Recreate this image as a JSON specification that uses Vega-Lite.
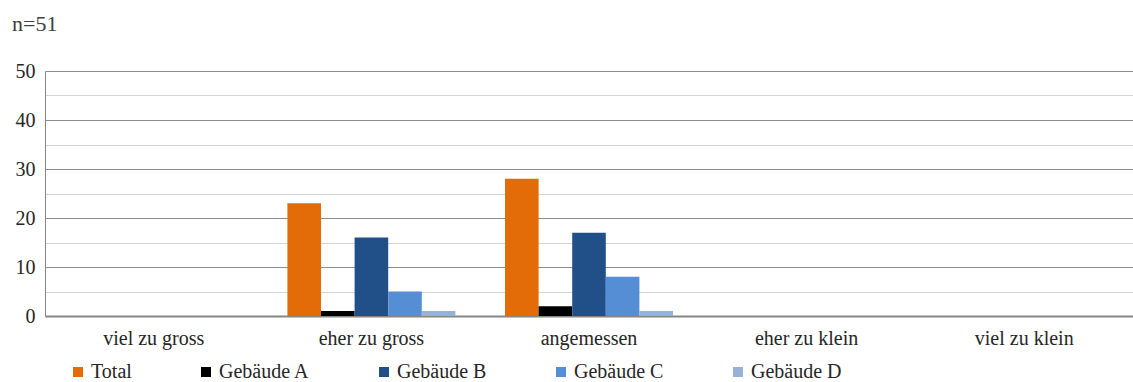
{
  "$schema": "https://vega.github.io/schema/vega-lite/v6.json",
  "autosize": "none",
  "width": 1088,
  "height": 245,
  "padding": {"left": 45, "top": 71, "right": 0, "bottom": 66},
  "background": "white",
  "title": {
    "text": "n=51",
    "anchor": "start",
    "frame": "group",
    "dx": -33,
    "offset": 25,
    "font": "Liberation Serif",
    "fontSize": 22,
    "fontWeight": "normal",
    "color": "#404040"
  },
  "data": {
    "values": [
      {"kategorie": "viel zu gross", "serie": "Total", "anzahl": 0},
      {"kategorie": "viel zu gross", "serie": "Gebäude A", "anzahl": 0},
      {"kategorie": "viel zu gross", "serie": "Gebäude B", "anzahl": 0},
      {"kategorie": "viel zu gross", "serie": "Gebäude C", "anzahl": 0},
      {"kategorie": "viel zu gross", "serie": "Gebäude D", "anzahl": 0},
      {"kategorie": "eher zu gross", "serie": "Total", "anzahl": 23},
      {"kategorie": "eher zu gross", "serie": "Gebäude A", "anzahl": 1},
      {"kategorie": "eher zu gross", "serie": "Gebäude B", "anzahl": 16},
      {"kategorie": "eher zu gross", "serie": "Gebäude C", "anzahl": 5},
      {"kategorie": "eher zu gross", "serie": "Gebäude D", "anzahl": 1},
      {"kategorie": "angemessen", "serie": "Total", "anzahl": 28},
      {"kategorie": "angemessen", "serie": "Gebäude A", "anzahl": 2},
      {"kategorie": "angemessen", "serie": "Gebäude B", "anzahl": 17},
      {"kategorie": "angemessen", "serie": "Gebäude C", "anzahl": 8},
      {"kategorie": "angemessen", "serie": "Gebäude D", "anzahl": 1},
      {"kategorie": "eher zu klein", "serie": "Total", "anzahl": 0},
      {"kategorie": "eher zu klein", "serie": "Gebäude A", "anzahl": 0},
      {"kategorie": "eher zu klein", "serie": "Gebäude B", "anzahl": 0},
      {"kategorie": "eher zu klein", "serie": "Gebäude C", "anzahl": 0},
      {"kategorie": "eher zu klein", "serie": "Gebäude D", "anzahl": 0},
      {"kategorie": "viel zu klein", "serie": "Total", "anzahl": 0},
      {"kategorie": "viel zu klein", "serie": "Gebäude A", "anzahl": 0},
      {"kategorie": "viel zu klein", "serie": "Gebäude B", "anzahl": 0},
      {"kategorie": "viel zu klein", "serie": "Gebäude C", "anzahl": 0},
      {"kategorie": "viel zu klein", "serie": "Gebäude D", "anzahl": 0}
    ]
  },
  "mark": {"type": "bar"},
  "encoding": {
    "x": {
      "field": "kategorie",
      "type": "nominal",
      "sort": ["viel zu gross", "eher zu gross", "angemessen", "eher zu klein", "viel zu klein"],
      "scale": {"paddingInner": 0.228, "paddingOuter": 0.114},
      "axis": {
        "title": null,
        "labelAngle": 0,
        "ticks": false,
        "labelPadding": 12,
        "labelFont": "Liberation Serif",
        "labelFontSize": 20,
        "labelColor": "#262626",
        "domainColor": "#868686",
        "domainWidth": 2,
        "grid": false
      }
    },
    "xOffset": {
      "field": "serie",
      "type": "nominal",
      "sort": ["Total", "Gebäude A", "Gebäude B", "Gebäude C", "Gebäude D"],
      "scale": {"paddingInner": 0, "paddingOuter": 0}
    },
    "y": {
      "field": "anzahl",
      "type": "quantitative",
      "scale": {"domain": [0, 50], "nice": false},
      "axis": {
        "title": null,
        "values": [0, 5, 10, 15, 20, 25, 30, 35, 40, 45, 50],
        "labelExpr": "datum.value % 10 === 0 ? datum.label : ''",
        "ticks": false,
        "labelPadding": 10,
        "labelFont": "Liberation Serif",
        "labelFontSize": 20,
        "labelColor": "#262626",
        "domainColor": "#868686",
        "domainWidth": 1,
        "grid": true,
        "gridColor": {
          "condition": {"test": "datum.value % 10 === 0", "value": "#8c8c8c"},
          "value": "#d4d4d4"
        },
        "gridWidth": 1.2
      }
    },
    "color": {
      "field": "serie",
      "type": "nominal",
      "sort": ["Total", "Gebäude A", "Gebäude B", "Gebäude C", "Gebäude D"],
      "scale": {
        "domain": ["Total", "Gebäude A", "Gebäude B", "Gebäude C", "Gebäude D"],
        "range": ["#E36C09", "#000000", "#215089", "#558ED5", "#95B3D7"]
      },
      "legend": {
        "title": null,
        "orient": "none",
        "legendX": 23,
        "legendY": 291,
        "direction": "horizontal",
        "columns": 5,
        "columnPadding": 64,
        "symbolType": "square",
        "symbolSize": 100,
        "symbolStrokeWidth": 0,
        "symbolOffset": 0,
        "labelOffset": 3,
        "labelFont": "Liberation Serif",
        "labelFontSize": 20,
        "labelColor": "#262626",
        "labelLimit": 200
      }
    }
  },
  "config": {
    "view": {"stroke": null}
  }
}
